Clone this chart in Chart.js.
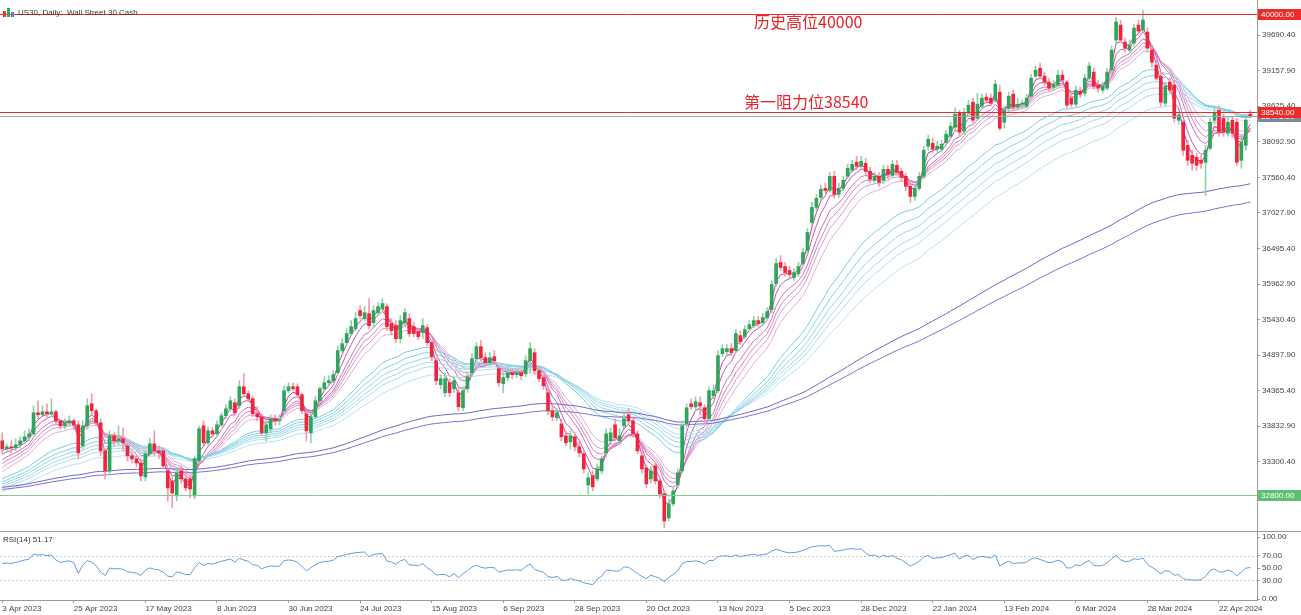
<!DOCTYPE html>
<html>
<head>
<meta charset="utf-8">
<script src="https://cdn.jsdelivr.net/npm/chart.js@4"></script>
<style>
  body { margin: 0; background: #fff; width: 1301px; height: 615px; overflow: hidden; position: relative; font-family: "Liberation Sans", Arial, sans-serif; }
  canvas { position: absolute; left: 0; }
  #price { top: 0; }
  #rsi { top: 532px; }
  .lbl { position: absolute; font-size: 8px; color: #333; white-space: pre; }
  .icon { position: absolute; left: 3px; top: 8px; width: 11px; height: 9px; }
  .icon i { position: absolute; bottom: 0; width: 3px; }
</style>
</head>
<body>
<canvas id="price" width="1301" height="532"></canvas>
<canvas id="rsi" width="1301" height="83"></canvas>
<div class="icon"><i style="left:0;height:6px;background:#e63a3a"></i><i style="left:4px;height:9px;background:#3aa65a"></i><i style="left:8px;height:5px;background:#5a7fd8"></i></div>
<div class="lbl" style="left:18px;top:8px">US30, Daily:  Wall Street 30 Cash</div>
<div class="lbl" style="left:3px;top:535px">RSI(14) 51.17</div>
<script>
// daily bars, 3 Apr 2023 .. end Apr 2024
const opens = [
  33615,33495,33525,33510,33555,33615,33675,33720,34035,34005,
  34050,34020,34050,33915,33840,33885,33915,33855,33540,33840,
  34170,34065,33885,33465,33165,33690,33615,33645,33540,33390,
  33345,33285,33075,33420,33570,33465,33465,33165,33015,32790,
  33165,33045,33045,32790,33315,33840,33585,33765,33720,33855,
  33990,34095,34185,34140,34425,34320,34245,34020,33975,33735,
  33795,33945,33915,34065,34365,34425,34425,34305,34020,33735,
  33975,34215,34395,34485,34515,34635,34965,35085,35220,35295,
  35565,35445,35520,35385,35535,35595,35625,35370,35340,35145,
  35385,35445,35325,35250,35235,35310,35085,34815,34455,34335,
  34485,34395,34335,34110,34395,34635,34845,35025,34860,34785,
  34875,34695,34470,34560,34635,34605,34635,34620,34815,34935,
  34665,34560,34335,34065,33960,33870,33690,33600,33675,33525,
  33420,32955,33090,33045,33165,33435,33615,33855,33615,33840,
  34005,33915,33720,33390,33210,33045,33240,33015,32820,32460,
  32670,32955,33165,33870,34170,34125,34185,34110,33945,34290,
  34365,34920,34950,34995,34965,35190,35175,35295,35340,35415,
  35385,35460,35580,35970,36285,36225,36165,36060,36120,36270,
  36465,36885,37110,37260,37395,37365,37575,37305,37395,37575,
  37665,37785,37725,37770,37650,37515,37575,37515,37680,37590,
  37740,37650,37575,37425,37275,37395,37575,38025,38070,37980,
  37980,38085,38175,38310,38520,38250,38535,38685,38445,38625,
  38760,38745,38715,38835,38385,38595,38805,38610,38655,38625,
  38775,39075,39195,39075,38985,38910,38940,39090,38985,38745,
  38655,38850,38820,39045,39135,38940,38865,38895,39165,39615,
  39840,39585,39465,39570,39840,39765,39735,39465,39240,39075,
  38670,38985,38940,38415,38385,38040,37890,37860,37815,37785,
  37995,38415,38565,38445,38220,38415,38385,37815,38040,38505
];
const highs = [
  33735,33570,33615,33645,33675,33765,33795,34140,34215,34140,
  34170,34245,34080,33945,33945,33990,33945,33915,33915,34245,
  34320,34095,33945,33495,33765,33735,33840,33810,33570,33435,
  33390,33345,33465,33660,33765,33540,33510,33195,33075,33195,
  33240,33165,33105,33390,33840,33915,33825,33810,33915,34035,
  34155,34275,34245,34515,34620,34365,34290,34125,34020,33915,
  34005,34005,34005,34440,34485,34485,34470,34335,34050,34035,
  34275,34425,34575,34590,34665,35040,35145,35295,35415,35535,
  35640,35625,35745,35640,35685,35745,35670,35445,35415,35490,
  35595,35520,35385,35295,35445,35355,35115,34860,34605,34635,
  34545,34575,34395,34425,34635,34920,35085,35115,34935,34935,
  34965,34740,34635,34695,34695,34695,34665,34890,35085,34995,
  34725,34605,34425,34140,34095,33945,33765,33765,33735,33615,
  33465,33135,33165,33270,33390,33795,33810,33945,33795,34035,
  34095,33975,33765,33465,33255,33225,33285,33045,32865,32745,
  32925,33195,33915,34170,34245,34275,34275,34155,34425,34455,
  34965,35055,35055,35070,35280,35265,35340,35415,35475,35475,
  35520,35610,36015,36345,36390,36285,36225,36195,36285,36495,
  36795,37185,37305,37440,37470,37635,37650,37470,37575,37755,
  37815,37875,37875,37845,37710,37635,37635,37740,37740,37815,
  37815,37695,37620,37485,37455,37635,38025,38190,38145,38100,
  38115,38265,38385,38595,38565,38595,38715,38745,38820,38805,
  38820,38805,39015,38940,38625,38835,38865,38745,38715,38805,
  39105,39225,39270,39135,39045,39015,39165,39165,39015,38805,
  38925,38910,39105,39285,39195,39015,38985,39195,39525,39960,
  39915,39645,39615,39855,39915,40065,39795,39540,39315,39135,
  38985,39045,39015,38535,38415,38115,37965,37920,37890,38040,
  38445,38595,38625,38505,38445,38475,38445,38190,38490,38565
];
const lows = [
  33420,33435,33435,33465,33510,33585,33615,33690,33945,33975,
  33945,33975,33855,33795,33795,33840,33795,33345,33495,33795,
  33990,33840,33390,33045,33105,33540,33555,33465,33315,33285,
  33225,33015,33015,33390,33390,33345,33195,32715,32610,32715,
  32985,32865,32760,32745,33285,33540,33555,33675,33675,33825,
  33945,34065,33990,34095,34275,34200,33975,33915,33690,33615,
  33735,33855,33855,34035,34335,34365,34275,34020,33615,33585,
  33945,34185,34365,34440,34485,34605,34935,35040,35190,35265,
  35445,35415,35295,35310,35505,35565,35265,35205,35085,35085,
  35340,35175,35175,35130,35145,35040,34815,34455,34395,34275,
  34275,34335,34065,34065,34335,34590,34815,34815,34725,34740,
  34755,34425,34335,34515,34545,34560,34530,34575,34635,34605,
  34500,34380,34005,33915,33915,33615,33540,33495,33465,33375,
  33135,32820,32865,33015,33120,33375,33570,33615,33570,33795,
  33870,33675,33420,33135,32910,32985,32970,32760,32310,32415,
  32640,32910,33135,33825,34080,34065,34005,33885,33915,34245,
  34335,34875,34905,34890,34935,35055,35145,35265,35310,35325,
  35340,35430,35535,35925,36165,36075,36045,36015,36075,36240,
  36405,36840,37065,37215,37320,37335,37245,37260,37365,37545,
  37635,37680,37695,37590,37485,37470,37425,37470,37545,37560,
  37590,37500,37365,37185,37215,37365,37545,37965,37935,37935,
  37935,38040,38145,38265,38175,38205,38490,38370,38415,38595,
  38670,38625,38685,38265,38295,38550,38565,38565,38595,38595,
  38745,39045,39030,38940,38850,38865,38910,38955,38595,38610,
  38625,38760,38775,39015,38880,38835,38820,38865,39135,39540,
  39585,39435,39435,39525,39705,39735,39435,39210,39015,38625,
  38625,38820,38385,38355,37890,37740,37665,37665,37695,37290,
  37965,38355,38175,38175,38175,38160,37740,37695,37965,38445
];
const closes = [
  33495,33525,33510,33555,33615,33675,33720,34035,34005,34050,
  34020,34050,33915,33840,33885,33915,33855,33435,33840,34140,
  34065,33885,33465,33165,33690,33615,33645,33585,33390,33345,
  33285,33090,33420,33570,33465,33435,33240,32910,32835,33135,
  33045,32910,32895,33345,33795,33585,33765,33720,33855,33990,
  34095,34215,34035,34425,34320,34245,34020,33975,33735,33855,
  33945,33915,33930,34365,34425,34395,34305,34065,33765,33975,
  34215,34395,34485,34515,34605,34965,35070,35220,35325,35445,
  35490,35535,35340,35565,35625,35670,35325,35265,35145,35415,
  35535,35220,35220,35175,35340,35085,34875,34515,34545,34545,
  34335,34515,34125,34365,34575,34845,35025,34860,34785,34860,
  34815,34485,34560,34635,34605,34635,34590,34815,34995,34665,
  34545,34440,34065,33975,34035,33675,33585,33690,33525,33435,
  33195,33060,32925,33195,33345,33720,33735,33660,33690,33945,
  33915,33720,33465,33195,32970,33165,33015,32820,32415,32670,
  32865,33135,33840,34110,34125,34200,34140,33945,34365,34365,
  34890,34995,34995,34935,35220,35100,35280,35355,35415,35370,
  35460,35550,35955,36270,36210,36135,36105,36135,36225,36435,
  36735,37110,37245,37380,37365,37575,37305,37395,37515,37695,
  37755,37725,37800,37650,37530,37575,37485,37680,37605,37755,
  37635,37560,37425,37275,37395,37575,37965,38130,37980,38025,
  38055,38205,38325,38505,38235,38520,38640,38415,38655,38745,
  38715,38670,38955,38295,38565,38775,38610,38655,38670,38745,
  39045,39165,39075,38985,38895,38955,39090,39015,38640,38655,
  38865,38805,39045,39225,38925,38895,38925,39135,39465,39885,
  39615,39495,39540,39795,39750,39915,39495,39285,39045,38685,
  38925,38865,38445,38490,37965,37815,37770,37740,37770,37965,
  38385,38520,38235,38235,38385,38220,37785,38085,38415,38475
];

// x axis: one date label every 16 bars
const tickLabels = ["3 Apr 2023","25 Apr 2023","17 May 2023","8 Jun 2023","30 Jun 2023","24 Jul 2023",
  "15 Aug 2023","6 Sep 2023","28 Sep 2023","20 Oct 2023","13 Nov 2023","5 Dec 2023","28 Dec 2023",
  "22 Jan 2024","13 Feb 2024","6 Mar 2024","28 Mar 2024","22 Apr 2024"];
const tickEvery = 16;
const priceTicks = [39690.40,39157.90,38625.40,38092.90,37560.40,37027.90,36495.40,35962.90,35430.40,34897.90,34365.40,33832.90,33300.40];
const rsiTicks = [100, 70, 50, 30, 0];

// levels drawn on the chart
const levelAth = 40000;
const levelResist = 38540;
const levelSupport = 32800;

// guppy style EMAs + two long EMAs, with the values they had just before the first bar
const shortPeriods = [3, 5, 8, 10, 12, 15];
const shortSeeds = [33435, 33375, 33285, 33225, 33165, 33105];
const longPeriods = [30, 35, 40, 45, 50, 60];
const longSeeds = [33015, 32970, 32940, 32910, 32880, 32835];
const slowPeriods = [144, 169];
const slowSeeds = [32910, 32880];
const rsiPeriod = 14;
const rsiSeedGain = 60, rsiSeedLoss = 45;

const FONT = "'Liberation Sans', Arial, sans-serif";
const nSlots = closes.length + 1;   // one empty slot at the right edge
const slots = Array.from({ length: nSlots }, (_, i) => i);

function ema(values, period, seed) {
    const k = 2 / (period + 1);
    let prev = seed;
    return values.map(v => (prev = prev + k * (v - prev)));
}

function rsi(values, period, g0, l0) {
    let g = g0, l = l0;
    return values.map((v, i) => {
        if (i > 0) {
            const d = v - values[i - 1];
            g = (g * (period - 1) + Math.max(d, 0)) / period;
            l = (l * (period - 1) + Math.max(-d, 0)) / period;
        }
        return 100 - 100 / (1 + g / l);
    });
}

const shortColors = ['#c63fa0', '#cc55aa', '#d36bb5', '#d981bf', '#df97ca', '#e5abd4'];
const longColors = ['#78cbe2', '#85d0e5', '#92d5e8', '#9fd9ea', '#abdded', '#b7e1ef'];
const slowColors = ['#6f64c8', '#7b70cf'];

function lineSet(data, color) {
    return { type: 'line', data, borderColor: color, borderWidth: 1, pointRadius: 0, tension: 0, order: 3 };
}

const bull = '#2ea55a', bear = '#f2243d';
const isBull = closes.map((c, i) => c >= opens[i]);

const datasets = [
    {
        type: 'bar', grouped: false, order: 1, barThickness: 3,
        data: opens.map((o, i) => [o, closes[i]]),
        backgroundColor: isBull.map(b => b ? bull : bear)
    },
    {
        type: 'bar', grouped: false, order: 2, barThickness: 1,
        data: lows.map((l, i) => [l, highs[i]]),
        backgroundColor: isBull.map(b => b ? '#8fd3a8' : '#f59aa6')
    }
];
slowPeriods.forEach((p, i) => datasets.push(lineSet(ema(closes, p, slowSeeds[i]), slowColors[i])));
longPeriods.forEach((p, i) => datasets.push(lineSet(ema(closes, p, longSeeds[i]), longColors[i])));
shortPeriods.forEach((p, i) => datasets.push(lineSet(ema(closes, p, shortSeeds[i]), shortColors[i])));

const lastClose = closes[closes.length - 1];

const levelsPlugin = {
    id: 'levels',
    afterDatasetsDraw(chart) {
        const { ctx, chartArea: a, scales: { y } } = chart;
        const lines = [
            [lastClose, '#a0a8b0'],
            [levelAth, '#ee2a2a'],
            [levelResist, '#ee2a2a'],
            [levelSupport, '#7ccf8e']
        ];
        ctx.save();
        lines.forEach(([v, c]) => {
            const py = Math.round(y.getPixelForValue(v)) + 0.5;
            ctx.strokeStyle = c; ctx.lineWidth = 1;
            ctx.beginPath(); ctx.moveTo(a.left, py); ctx.lineTo(a.right, py); ctx.stroke();
        });
        // annotation texts
        ctx.fillStyle = '#e8232b';
        ctx.font = "16px 'Noto Sans CJK SC', sans-serif";
        ctx.textBaseline = 'middle';
        ctx.fillText('历史高位40000', 754, 22);
        ctx.fillText('第一阻力位38540', 744, 102);
        // separator to the RSI window
        ctx.strokeStyle = '#999';
        ctx.beginPath(); ctx.moveTo(0, chart.height - 0.5); ctx.lineTo(chart.width, chart.height - 0.5); ctx.stroke();
        ctx.restore();
    },
    afterDraw(chart) {
        const { ctx, chartArea: a, scales: { y } } = chart;
        const boxes = [
            [lastClose, '#7f8a98'],
            [levelAth, '#ee2a2a'],
            [levelResist, '#ee2a2a'],
            [levelSupport, '#5cbf72']
        ];
        ctx.save();
        ctx.font = '8px ' + FONT;
        ctx.textBaseline = 'middle';
        boxes.forEach(([v, c]) => {
            const py = Math.round(y.getPixelForValue(v));
            ctx.fillStyle = c;
            ctx.fillRect(a.right + 1, py - 5, chart.width - a.right - 1, 11);
            ctx.fillStyle = '#fff';
            ctx.fillText(v.toFixed(2), a.right + 4, py + 0.5);
        });
        ctx.restore();
    }
};

const xHidden = { type: 'category', display: false, offset: true, grid: { display: false } };

new Chart(document.getElementById('price'), {
    type: 'bar',
    data: { labels: slots, datasets },
    options: {
        responsive: false, animation: false, devicePixelRatio: 1,
        layout: { padding: 0 },
        plugins: { legend: { display: false }, tooltip: { enabled: false } },
        scales: {
            x: xHidden,
            y: {
                position: 'right', min: 32250, max: 40215,
                afterBuildTicks: s => { s.ticks = priceTicks.map(v => ({ value: v })); },
                afterFit: s => { s.width = 44; s.paddingTop = 0; s.paddingBottom = 0; },
                ticks: { callback: v => v.toFixed(2), color: '#444', padding: 2, font: { family: FONT, size: 8 } },
                grid: { drawOnChartArea: false, tickLength: 3, color: '#999' },
                border: { color: '#999' }
            }
        }
    },
    plugins: [levelsPlugin]
});

const rsiValues = rsi(closes, rsiPeriod, rsiSeedGain, rsiSeedLoss);

const rsiLevels = {
    id: 'rsiLevels',
    beforeDatasetsDraw(chart) {
        const { ctx, chartArea: a, scales: { y } } = chart;
        ctx.save();
        ctx.strokeStyle = '#c8c8c8';
        ctx.setLineDash([2, 2]);
        [70, 30].forEach(v => {
            const py = Math.round(y.getPixelForValue(v)) + 0.5;
            ctx.beginPath(); ctx.moveTo(a.left, py); ctx.lineTo(a.right, py); ctx.stroke();
        });
        ctx.restore();
    }
};

new Chart(document.getElementById('rsi'), {
    type: 'line',
    data: {
        labels: slots,
        datasets: [{ data: rsiValues, borderColor: '#5b9fdc', borderWidth: 1, pointRadius: 0, tension: 0 }]
    },
    options: {
        responsive: false, animation: false, devicePixelRatio: 1,
        layout: { padding: 0 },
        plugins: { legend: { display: false }, tooltip: { enabled: false } },
        scales: {
            x: {
                type: 'category', offset: true,
                afterFit: s => { s.height = 15; s.paddingLeft = 0; s.paddingRight = 0; },
                ticks: {
                    autoSkip: false, maxRotation: 0, minRotation: 0, align: 'start', padding: 1,
                    color: '#444', font: { family: FONT, size: 8 },
                    callback: (v, i) => (i % tickEvery === 0 && tickLabels[i / tickEvery]) ? tickLabels[i / tickEvery] : null
                },
                grid: { drawOnChartArea: false, tickLength: 3, color: '#999' },
                border: { color: '#999' }
            },
            y: {
                position: 'right', min: -1.6, max: 108.1,
                afterBuildTicks: s => { s.ticks = rsiTicks.map(v => ({ value: v })); },
                afterFit: s => { s.width = 44; s.paddingTop = 0; s.paddingBottom = 0; },
                ticks: { callback: v => v.toFixed(2), color: '#444', padding: 2, font: { family: FONT, size: 8 } },
                grid: { drawOnChartArea: false, tickLength: 3, color: '#999' },
                border: { color: '#999' }
            }
        }
    },
    plugins: [rsiLevels]
});
</script>
</body>
</html>
